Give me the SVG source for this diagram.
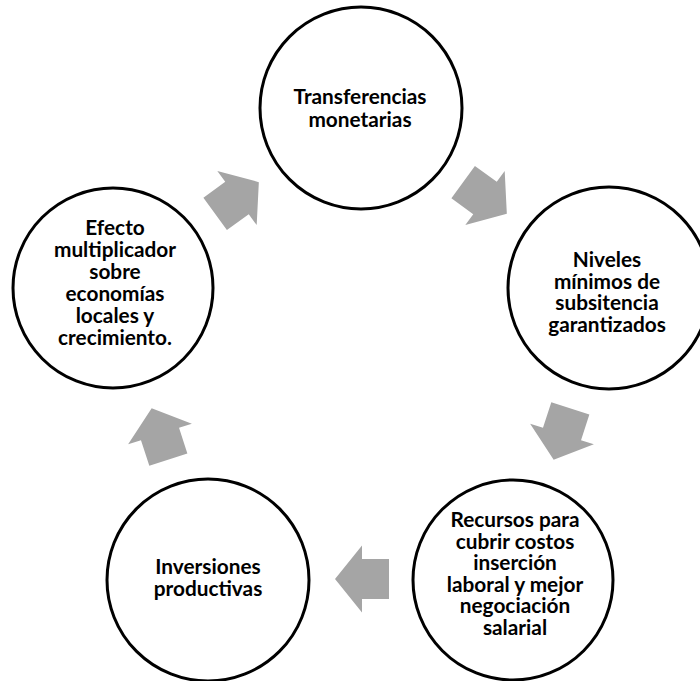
<svg xmlns="http://www.w3.org/2000/svg" xmlns:xlink="http://www.w3.org/1999/xlink" width="700" height="681" viewBox="0 0 700 681">
<style>
.node circle{fill:#ffffff;stroke:#000000;stroke-width:3}
.node text{font-family:Lato,"Open Sans","Liberation Sans",sans-serif;font-weight:bold;font-size:20.8px;fill:#000000;text-anchor:middle}
.arrow{fill:#a5a5a5}
</style>
<defs>
<path id="blockArrow" d="M-27,-20 L0,-20 L0,-33.5 L27,0 L0,33.5 L0,20 L-27,20 Z"/>
</defs>
<rect width="700" height="681" fill="#ffffff"/>
<g id="connectors">
<use xlink:href="#blockArrow" class="arrow" transform="translate(485,198) rotate(36)"/>
<use xlink:href="#blockArrow" class="arrow" transform="translate(562,434) rotate(108)"/>
<use xlink:href="#blockArrow" class="arrow" transform="translate(362,579) rotate(180)"/>
<use xlink:href="#blockArrow" class="arrow" transform="translate(160,434) rotate(252)"/>
<use xlink:href="#blockArrow" class="arrow" transform="translate(237,198) rotate(324)"/>
</g>
<g id="node-transferencias" class="node">
<circle cx="361" cy="108" r="101"/>
<text x="360" y="104">Transferencias</text>
<text x="360" y="127">monetarias</text>
</g>
<g id="node-niveles" class="node">
<circle cx="609" cy="288" r="101"/>
<text x="607" y="267">Niveles</text>
<text x="607" y="288.5">mínimos de</text>
<text x="607" y="310">subsitencia</text>
<text x="607" y="331.5">garantizados</text>
</g>
<g id="node-recursos" class="node">
<circle cx="513" cy="580" r="100"/>
<text x="515" y="527">Recursos para</text>
<text x="515" y="548.6">cubrir costos</text>
<text x="515" y="570.2">inserción</text>
<text x="515" y="591.8">laboral y mejor</text>
<text x="515" y="613.4">negociación</text>
<text x="515" y="635">salarial</text>
</g>
<g id="node-inversiones" class="node">
<circle cx="208" cy="580" r="101"/>
<text x="208" y="574">Inversiones</text>
<text x="208" y="596">productivas</text>
</g>
<g id="node-efecto" class="node">
<circle cx="113" cy="288" r="100"/>
<text x="115" y="235">Efecto</text>
<text x="115" y="257">multiplicador</text>
<text x="115" y="279">sobre</text>
<text x="115" y="301">economías</text>
<text x="115" y="323">locales y</text>
<text x="115" y="345">crecimiento.</text>
</g>
</svg>
